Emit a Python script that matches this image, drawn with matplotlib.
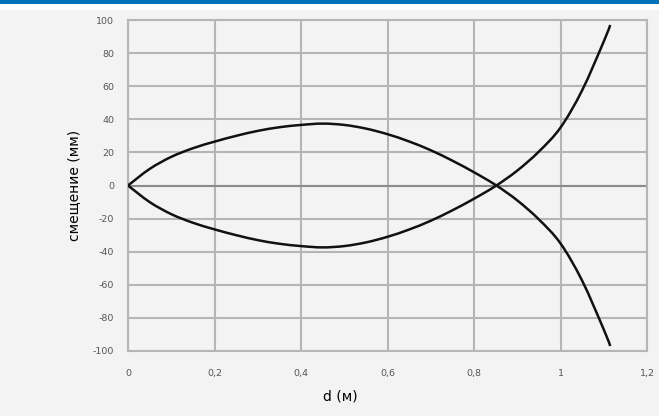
import matplotlib.pyplot as plt
from matplotlib.patches import Rectangle, PathPatch
from matplotlib.path import Path

# данные
d_vals = [0, 0.05, 0.1, 0.15, 0.2, 0.25, 0.3, 0.35, 0.4, 0.45, 0.5, 0.55,
          0.6, 0.65, 0.7, 0.75, 0.8, 0.85, 0.9, 0.95, 1.0, 1.05, 1.1, 1.115]
upper = [0, 10, 17.3, 22.5, 26.5, 30, 33, 35.2, 36.6, 37.4, 36.6, 34.4,
         31, 26.6, 21.3, 15, 8, 0.3, -9, -20.5, -35, -57.5, -87, -97]
lower = [0, -10, -17.3, -22.5, -26.5, -30, -33, -35.2, -36.6, -37.4, -36.6, -34.4,
         -31, -26.6, -21.3, -15, -8, -0.3, 9, 20.5, 35, 57.5, 87, 97]

x_ticks = [0, 0.2, 0.4, 0.6, 0.8, 1.0, 1.2]
x_tick_labels = ['0', '0,2', '0,4', '0,6', '0,8', '1', '1,2']
y_ticks = [-100, -80, -60, -40, -20, 0, 20, 40, 60, 80, 100]

W, H = 659, 416
bg = '#f3f3f3'


def smooth_path(xs, ys):
    # сглаженная линия как в Excel (Catmull-Rom -> кривые Безье)
    pts = list(zip(xs, ys))
    verts = [pts[0]]
    codes = [Path.MOVETO]
    n = len(pts)
    for i in range(n - 1):
        p0 = pts[i - 1] if i > 0 else pts[i]
        p1 = pts[i]
        p2 = pts[i + 1]
        p3 = pts[i + 2] if i + 2 < n else pts[i + 1]
        c1 = (p1[0] + (p2[0] - p0[0]) / 6, p1[1] + (p2[1] - p0[1]) / 6)
        c2 = (p2[0] - (p3[0] - p1[0]) / 6, p2[1] - (p3[1] - p1[1]) / 6)
        verts += [c1, c2, p2]
        codes += [Path.CURVE4] * 3
    return Path(verts, codes)


fig = plt.figure(figsize=(W / 100, H / 100), dpi=100)
fig.patch.set_facecolor(bg)

# полоска сверху
fig.add_artist(Rectangle((0, 1 - 10 / H), 1, 10 / H, transform=fig.transFigure,
                         facecolor='white', edgecolor='none'))
fig.add_artist(Rectangle((0, 1 - 4 / H), 1, 4 / H, transform=fig.transFigure,
                         facecolor='#0072b9', edgecolor='none'))

left, right, top, bottom = 128, 647, 20, 351
ax = fig.add_axes([left / W, 1 - bottom / H, (right - left) / W, (bottom - top) / H])
ax.set_facecolor(bg)

ax.set_xlim(0, 1.2)
ax.set_ylim(-100, 100)
ax.set_xticks(x_ticks)
ax.set_xticklabels(x_tick_labels)
ax.set_yticks(y_ticks)
ax.set_yticklabels([str(v) for v in y_ticks])
ax.tick_params(length=0, labelsize=6.8, colors='#555555')
ax.tick_params(axis='x', pad=13)
ax.tick_params(axis='y', pad=10)

ax.grid(True, color='#b5b5b5', linewidth=1.5)
ax.set_axisbelow(True)
for s in ax.spines.values():
    s.set_color('#b5b5b5')
    s.set_linewidth(1.5)
ax.axhline(0, color='#8c8c8c', linewidth=1.5, zorder=1)

for ys in (upper, lower):
    ax.add_patch(PathPatch(smooth_path(d_vals, ys), fill=False, edgecolor='#111111',
                           linewidth=1.8, zorder=3))

fig.text(340 / W, 1 - 397 / H, 'd (м)', ha='center', va='center', fontsize=10)
fig.text(74 / W, 1 - 185 / H, 'смещение (мм)', ha='center', va='center',
         rotation=90, fontsize=10)

plt.savefig('out.png', dpi=100, facecolor=fig.get_facecolor())
